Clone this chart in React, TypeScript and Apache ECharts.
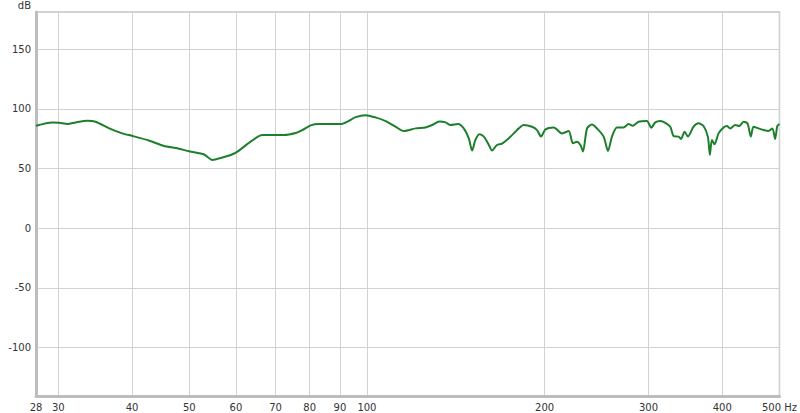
import React, { useEffect, useRef } from "react";
import * as echarts from "echarts";

const freqs = [
  27.5, 29.3, 30.1, 31.1, 32.1, 33.6, 34.7, 36.6, 38.5, 40.1, 42.8, 45.3, 47.5, 50.0, 53.0, 54.7, 56.9, 59.2, 60.7,
  63.2, 66.5, 70.5, 72.4, 75.7, 77.7, 80.3, 82.9, 90.3, 92.6, 95.7, 99.5, 103.4, 107.6, 111.8, 115.5, 120.9, 125.7,
  129.0, 132.7, 135.9, 138.6, 142.7, 145.9, 148.8, 150.7, 152.7, 155.1, 157.8, 160.9, 162.9, 166.1, 169.4, 173.9,
  178.5, 180.8, 184.4, 190.4, 194.2, 197.2, 200.7, 207.2, 214.1, 219.7, 223.4, 226.9, 230.0, 232.3, 236.0, 240.6,
  245.3, 251.8, 256.1, 260.1, 265.2, 272.2, 277.5, 281.9, 288.6, 298.1, 303.2, 308.0, 314.1, 320.3, 326.6, 330.8,
  337.3, 340.4, 345.3, 349.8, 357.6, 364.7, 371.8, 378.1, 381.1, 384.1, 388.1, 394.2, 402.0, 407.2, 412.6, 420.8,
  427.3, 434.6, 441.4, 447.1, 451.8, 460.7, 469.7, 479.0, 486.4, 491.5, 495.9, 500,
];

const levels = [
  85.8, 88.6, 88.3, 87.2, 88.6, 90.0, 89.2, 83.6, 79.4, 77.2, 73.3, 68.9, 67.2, 64.4, 61.7, 57.2, 59.2, 61.9, 65.0,
  71.7, 78.0, 78.0, 78.0, 79.7, 82.2, 86.1, 87.2, 87.2, 89.2, 93.0, 94.7, 92.8, 89.7, 85.0, 81.4, 83.6, 84.4,
  86.4, 89.4, 88.6, 86.4, 87.2, 83.6, 75.3, 65.0, 73.9, 78.6, 76.7, 69.7, 65.0, 69.7, 70.8, 75.3,
  80.8, 83.6, 86.4, 85.0, 82.2, 76.7, 82.8, 84.4, 79.4, 81.4, 71.1, 72.5, 69.7, 64.2, 83.6, 86.9,
  83.6, 76.7, 64.7, 76.7, 84.4, 84.4, 87.2, 85.8, 89.2, 89.7, 84.2, 88.6, 89.7, 88.3, 85.0, 77.2,
  76.7, 74.7, 80.8, 76.7, 85.0, 87.8, 85.6, 76.7, 61.4, 73.9, 70.3, 79.4, 84.4, 85.6, 83.6, 86.4,
  85.6, 89.2, 87.8, 76.7, 85.0, 83.6, 82.2, 81.4, 83.6, 74.7, 85.8, 87.2,
];

const xMinFreq = 27.5;
const xMaxFreq = 500;
const xTickFreqs = [27.5, 30, 40, 50, 60, 70, 80, 90, 100, 200, 300, 400, 500];
const xTickLabels = ["28", "30", "40", "50", "60", "70", "80", "90", "100", "200", "300", "400", "500 Hz"];

const yMin = -140.6;
const yMax = 181.1;
const yTicks = [-100, -50, 0, 50, 100, 150];

const FONT = "DejaVu Sans";

export default function App() {
  const ref = useRef<HTMLDivElement>(null);

  useEffect(() => {
    document.body.style.margin = "0";
    const chart = echarts.init(ref.current!, null, { renderer: "svg" });
    const xTickLogs = xTickFreqs.map((f) => Math.log10(f));
    const option: any = {
      animation: false,
      backgroundColor: "#ffffff",
      grid: {
        left: 36,
        right: 18,
        top: 10,
        bottom: 17,
        show: true,
        borderColor: "#c4c4c4",
        borderWidth: 1.5,
        backgroundColor: "#ffffff",
      },
      xAxis: {
        type: "value",
        min: Math.log10(xMinFreq),
        max: Math.log10(xMaxFreq),
        axisLine: { show: true, onZero: false, lineStyle: { color: "#bdbdbd", width: 3 } },
        axisTick: { show: false, customValues: xTickLogs },
        splitLine: { show: true, lineStyle: { color: "#d2d2d2", width: 1 } },
        axisLabel: {
          customValues: xTickLogs,
          color: "#333",
          fontFamily: FONT,
          fontSize: 10,
          margin: 6,
          formatter: (v: number) => {
            const i = xTickLogs.findIndex((t) => Math.abs(t - v) < 1e-6);
            return i >= 0 ? xTickLabels[i] : "";
          },
        },
      },
      yAxis: {
        type: "value",
        min: yMin,
        max: yMax,
        name: "dB",
        nameLocation: "end",
        nameGap: 2,
        nameTextStyle: {
          color: "#333",
          fontFamily: FONT,
          fontSize: 10,
          align: "right",
          verticalAlign: "bottom",
          padding: [0, 5, 0, 0],
        },
        axisLine: { show: true, lineStyle: { color: "#bdbdbd", width: 3 } },
        axisTick: { show: false, customValues: yTicks },
        splitLine: { show: true, lineStyle: { color: "#d2d2d2", width: 1 } },
        axisLabel: {
          customValues: yTicks,
          color: "#333",
          fontFamily: FONT,
          fontSize: 10,
          margin: 5,
        },
      },
      series: [
        {
          type: "line",
          data: freqs.map((f, i) => [Math.log10(f), levels[i]]),
          showSymbol: false,
          smooth: 0.25,
          lineStyle: { color: "#1d7f2b", width: 2 },
          silent: true,
        },
      ],
    };
    chart.setOption(option);
    return () => chart.dispose();
  }, []);

  return <div ref={ref} style={{ width: 800, height: 413 }} />;
}
